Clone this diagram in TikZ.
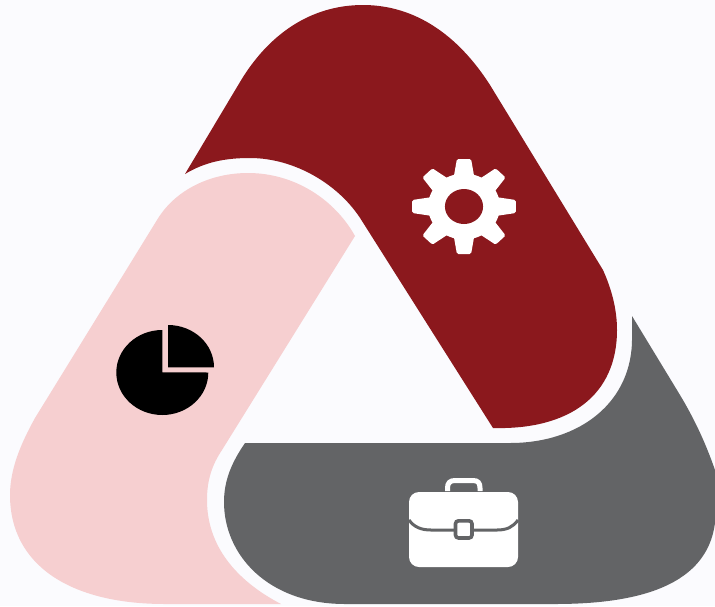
\documentclass[tikz,border=0pt]{standalone}
\usepackage{tikz}

\definecolor{bgpale}{HTML}{FBFBFE}
\definecolor{darkred}{HTML}{8B181D}
\definecolor{palepink}{HTML}{F6CFD0}
\definecolor{midgray}{HTML}{636466}

\begin{document}
\begin{tikzpicture}[x=1pt,y=-1pt,
  seam/.style={draw=midgray,line width=3pt}]
\fill[bgpale] (0,0) rectangle (715,606);

% the three bands
\fill[darkred] (185,174) -- (240,82) .. controls (268,35) and (310,5) .. (363,5)
  .. controls (415,5) and (458,35) .. (490,85) -- (603,270)
  .. controls (612,290) and (617,310) .. (617,330)
  .. controls (617,395) and (570,430) .. (493,428) -- (362,221)
  .. controls (340,185) and (295,158) .. (250,158)
  .. controls (225,158) and (205,162) .. (185,174) -- cycle;
\fill[palepink] (355,236) .. controls (335,200) and (295,173) .. (248,173)
  .. controls (210,173) and (175,190) .. (157,220) -- (35,418)
  .. controls (20,445) and (10,470) .. (10,495)
  .. controls (10,565) and (70,604) .. (165,604) -- (281,604)
  .. controls (235,580) and (207,545) .. (207,500)
  .. controls (207,480) and (212,465) .. (222,450) -- cycle;
\fill[midgray] (245,443) -- (510,443) .. controls (580,443) and (633,402) .. (632,337)
  -- (632,316) -- (680,395) .. controls (698,425) and (708,450) .. (715,470) -- (715,523)
  .. controls (707,585) and (640,604) .. (555,604) -- (345,604)
  .. controls (268,604) and (224,555) .. (224,502)
  .. controls (224,480) and (232,462) .. (245,443) -- cycle;

% gear
\begin{scope}[shift={(464,206.5)},xscale=1.09]
\fill[white] (0,0) circle (33);
\foreach \a in {0,45,...,315}
  \fill[white,rotate=\a,rounded corners=1.5pt] (-9.5,-29) -- (-6.5,-47.5) -- (6.5,-47.5) -- (9.5,-29) -- cycle;
\fill[darkred] (0,0) ellipse (17.5 and 17.5);
\end{scope}

% briefcase
\draw[white,line width=5pt] (447.5,491) -- (447.5,488) .. controls (447.5,483) and (450,480.5) .. (455,480.5)
  -- (473,480.5) .. controls (478,480.5) and (480,483) .. (480,488) -- (480,491);
\fill[white,rounded corners=10pt] (409,492) rectangle (518,567);
\draw[seam] (409,520) .. controls (414,527) and (421,530) .. (431,530) -- (454,530);
\draw[seam] (473,530) -- (497,530) .. controls (507,530) and (513,527) .. (518,520);
\draw[seam,line width=3.6pt,fill=white,rounded corners=3pt] (455.5,520.8) rectangle (472,538);

% pie
\fill[black] (162.3,372.3) -- (162.3,330) arc[start angle=-90,end angle=-360,x radius=46,y radius=42.5] -- cycle;
\fill[black] (168,367.3) -- (168,325) arc[start angle=-90,end angle=0,x radius=46,y radius=42.3] -- cycle;
\end{tikzpicture}
\end{document}
